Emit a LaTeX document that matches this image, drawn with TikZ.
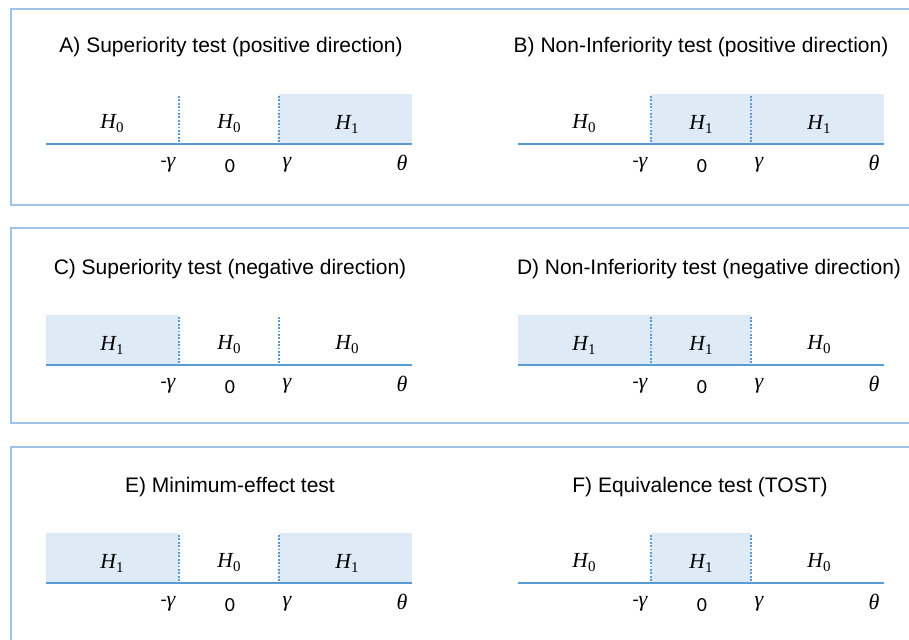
\documentclass[tikz,border=0pt]{standalone}
\usepackage{fontspec}
\setmainfont{Liberation Sans}
\newfontfamily\calib{Carlito}
\newfontfamily\serifmath{Liberation Serif}
\definecolor{axisblue}{HTML}{5B9BD5}
\definecolor{fillblue}{HTML}{DEEAF6}
\definecolor{frameblue}{HTML}{9DC3E6}
\newcommand\hypsym[1]{{\serifmath\fontsize{21.5}{24}\selectfont\itshape H}\kern0.4pt\raisebox{-4pt}{\serifmath\fontsize{15}{17}\selectfont #1}}
\newcommand\greek[1]{{\serifmath\fontsize{22}{25}\selectfont\itshape #1}}
\tikzset{
  frame/.style={draw=frameblue, line width=1.8pt},
  axisline/.style={draw=axisblue, line width=2.4pt},
  bound/.style={draw=axisblue, line width=1.6pt, dash pattern=on 1.8pt off 1.6pt},
  region/.style={fill=fillblue, draw=none},
  title/.style={anchor=base, inner sep=0pt, font=\fontsize{21}{24}\selectfont},
  hyp/.style={anchor=center, inner sep=0pt},
  tick/.style={anchor=center, inner sep=0pt},
}
% #1 name, #2 dx, #3 dy, #4 title, #5 title centre x, #6 #7 #8 shaded (1) or not (0)
\newcommand\testpanel[8]{%
  \begin{scope}[shift={(#2,#3)}]
    \ifnum#6=1 \fill[region] (46,94) rectangle (179,144);\fi
    \ifnum#7=1 \fill[region] (179,94) rectangle (279,144);\fi
    \ifnum#8=1 \fill[region] (279,94) rectangle (412,144);\fi
    \node[title] (#1-title) at (#5-#2,53) {#4};
    \coordinate (#1-left) at (46,144);
    \coordinate (#1-right) at (412,144);
    \coordinate (#1-lo) at (179,144);
    \coordinate (#1-lotop) at (179,96);
    \coordinate (#1-hi) at (279,144);
    \coordinate (#1-hitop) at (279,96);
    \draw[bound] (#1-lotop) -- (#1-lo);
    \draw[bound] (#1-hitop) -- (#1-hi);
    \draw[axisline] (#1-left) -- (#1-right);
    \node[hyp] (#1-hA) at (112,124) {\hypsym{\ifnum#6=1 1\else 0\fi}};
    \node[hyp] (#1-hB) at (229,124) {\hypsym{\ifnum#7=1 1\else 0\fi}};
    \node[hyp] (#1-hC) at (347,124) {\hypsym{\ifnum#8=1 1\else 0\fi}};
    \node[tick] (#1-mg) at (168,165) {{\calib\fontsize{20}{24}\selectfont -}\greek{γ}};
    \node[tick] (#1-zero) at (230,166) {\calib\fontsize{20}{24}\selectfont 0};
    \node[tick] (#1-g) at (287,165) {\greek{γ}};
    \node[tick] (#1-theta) at (402,163) {\greek{θ}};
  \end{scope}%
}
\begin{document}
\begin{tikzpicture}[x=1pt,y=-1pt]
  \useasboundingbox (0,0) rectangle (909,639);
  \begin{scope}
    \clip (0,0) rectangle (909,639);
    \draw[frame] (11,9) rectangle (930,205);
    \draw[frame] (11,228) rectangle (930,423);
    \draw[frame] (11,447) rectangle (930,660);
  \end{scope}
  \testpanel{A}{0}{0}{A) Superiority test (positive direction)}{231}{0}{0}{1}
  \testpanel{B}{472}{0}{B) Non-Inferiority test (positive direction)}{701}{0}{1}{1}
  \testpanel{C}{0}{221}{C) Superiority test (negative direction)}{230}{1}{0}{0}
  \testpanel{D}{472}{221}{D) Non-Inferiority test (negative direction)}{709}{1}{1}{0}
  \testpanel{E}{0}{439}{E) Minimum-effect test}{230}{1}{0}{1}
  \testpanel{F}{472}{439}{F) Equivalence test (TOST)}{700}{0}{1}{0}
\end{tikzpicture}
\end{document}
